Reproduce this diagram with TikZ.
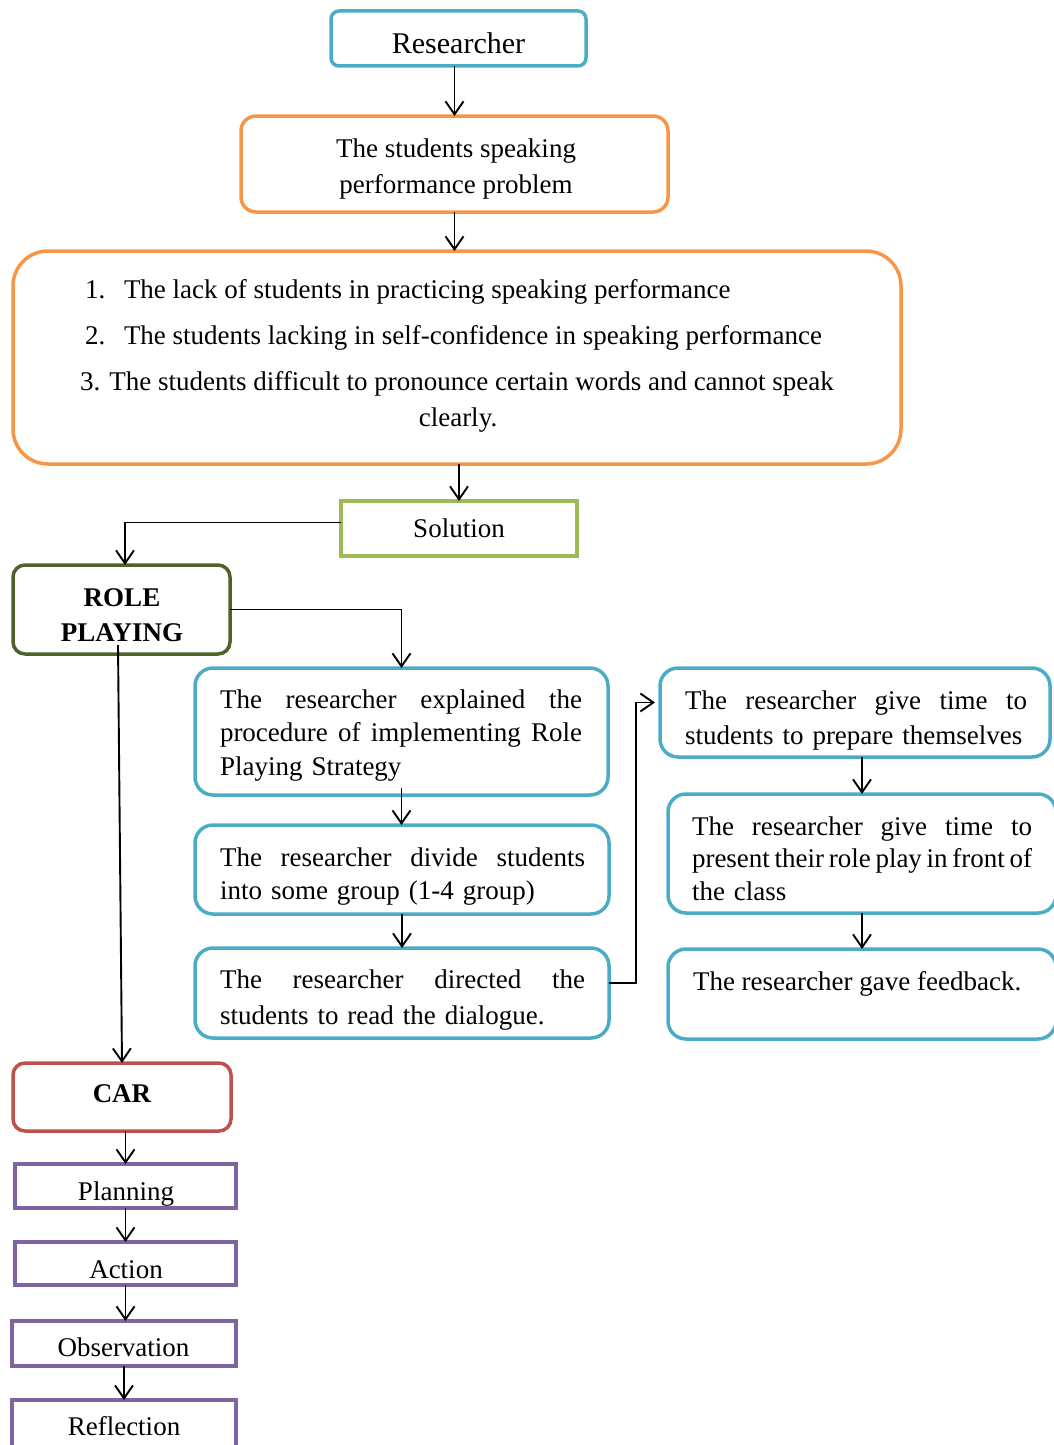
\documentclass[tikz,border=0pt]{standalone}
\usepackage{fontspec}
\setmainfont{Liberation Serif}
\usetikzlibrary{arrows.meta}
\definecolor{cblue}{HTML}{4BACC6}
\definecolor{corange}{HTML}{F79646}
\definecolor{cgreen}{HTML}{9BBB59}
\definecolor{colive}{HTML}{4F6228}
\definecolor{cred}{HTML}{C0504D}
\definecolor{cpurple}{HTML}{8064A2}
\newcommand\jsp{\hskip 6.75pt plus 1fil minus 3pt\relax}
\newcommand\jline[2]{\leavevmode\hbox to #1{#2}}
\begin{document}
\begin{tikzpicture}[x=1pt,y=-1pt,
  shp/.style={line width=3.5pt, inner sep=0pt, outer sep=0pt},
  bluebox/.style={shp, draw=cblue, rounded corners=18pt},
  orangebox/.style={shp, draw=corange, rounded corners=#1},
  greenbox/.style={shp, draw=cgreen},
  olivebox/.style={shp, draw=colive, rounded corners=12pt},
  redbox/.style={shp, draw=cred, rounded corners=12pt},
  purplebox/.style={shp, draw=cpurple},
  txt/.style={inner sep=0pt, outer sep=0pt, font=\fontsize{27}{34}\selectfont},
  btxt/.style={txt, font=\fontsize{27}{34}\selectfont\bfseries},
  jtxt/.style={txt, text width=#1, align=left},
  conn/.style={line width=1.9pt, -{Straight Barb[length=13pt,width=18pt,line width=1.9pt]}}
]
\useasboundingbox (0,0) rectangle (1053,1445);

% boxes
\node[bluebox, rounded corners=8pt, minimum width=255pt, minimum height=55pt] (res) at (458.5,38.5) {};
\node[orangebox=15pt, minimum width=427pt, minimum height=96pt] (prob) at (454.5,164) {};
\node[orangebox=35pt, minimum width=888pt, minimum height=213pt] (big) at (457,357.5) {};
\node[greenbox, minimum width=236pt, minimum height=55pt] (sol) at (459,528.5) {};
\node[olivebox, minimum width=217pt, minimum height=89pt] (rp) at (121.5,609.5) {};
\node[bluebox, minimum width=413pt, minimum height=127pt] (b1) at (401.5,731.5) {};
\node[bluebox, minimum width=414pt, minimum height=89pt] (b2) at (402,869.5) {};
\node[bluebox, minimum width=414pt, minimum height=90pt] (b3) at (402,993) {};
\node[bluebox, minimum width=390pt, minimum height=89pt] (b4) at (855,712.5) {};
\node[bluebox, minimum width=388pt, minimum height=119pt] (b5) at (862,853.5) {};
\node[bluebox, minimum width=388pt, minimum height=90pt] (b6) at (862,994) {};
\node[redbox, minimum width=218pt, minimum height=68pt] (car) at (122,1097) {};
\node[purplebox, minimum width=221pt, minimum height=44pt] (plan) at (125.5,1186) {};
\node[purplebox, minimum width=221pt, minimum height=43pt] (act) at (125.5,1263.5) {};
\node[purplebox, minimum width=224pt, minimum height=45pt] (obs) at (124,1343.5) {};
\node[purplebox, minimum width=224pt, minimum height=48pt] (refl) at (124,1424) {};

% texts
\node[txt, font=\fontsize{30}{36}\selectfont, anchor=base] (tres) at (458.5,53) {Researcher};
\node[txt, anchor=base] (tprob1) at (456,157) {The students speaking};
\node[txt, anchor=base] (tprob2) at (456,193) {performance problem};
\node[txt, anchor=base west] (n1) at (85,298) {1.};
\node[txt, anchor=base west] (l1) at (124,298) {The lack of students in practicing speaking performance};
\node[txt, anchor=base west] (n2) at (85,344) {2.};
\node[txt, anchor=base west] (l2) at (124,344) {The students lacking in self-confidence in speaking performance};
\node[txt, anchor=base] (l3) at (457,390) {3. The students difficult to pronounce certain words and cannot speak};
\node[txt, anchor=base] (l4) at (458,426) {clearly.};
\node[txt, anchor=base] (tsol) at (459,537) {Solution};
\node[btxt, anchor=base] (trp1) at (122,606) {ROLE};
\node[btxt, anchor=base] (trp2) at (122,641) {PLAYING};

\node[jtxt=362pt, font=\fontsize{27}{33.5}\selectfont, anchor=base west] (tb1) at (220,708)
  {\jline{362pt}{The\jsp researcher\jsp explained\jsp the}\\
   \jline{362pt}{procedure\jsp of\jsp implementing\jsp Role}\\
   Playing Strategy};
\node[jtxt=365pt, font=\fontsize{27}{33}\selectfont, anchor=base west] (tb2) at (220,866)
  {\jline{365pt}{The\jsp researcher\jsp divide\jsp students}\\
   into some group (1-4 group)};
\node[jtxt=365pt, font=\fontsize{27}{36}\selectfont, anchor=base west] (tb3) at (220,988)
  {\jline{365pt}{The\jsp researcher\jsp directed\jsp the}\\
   students to read the dialogue.};
\node[jtxt=342pt, font=\fontsize{27}{35}\selectfont, anchor=base west] (tb4) at (685,709)
  {\jline{342pt}{The\jsp researcher\jsp give\jsp time\jsp to}\\
   students to prepare themselves};
\node[jtxt=342pt, font=\fontsize{27}{32.5}\selectfont, anchor=base west] (tb5) at (692,835)
  {\jline{340pt}{The\jsp researcher\jsp give\jsp time\jsp to}\\
   \jline{340pt}{present\jsp their\jsp role\jsp play\jsp in\jsp front\jsp of}\\
   the class};
\node[txt, anchor=base west] (tb6) at (693,990) {The researcher gave feedback.};

\node[btxt, anchor=base] (tcar) at (122,1102) {CAR};
\node[txt, anchor=base] (tplan) at (126,1200) {Planning};
\node[txt, anchor=base] (tact) at (126,1278) {Action};
\node[txt, anchor=base] (tobs) at (123.5,1356) {Observation};
\node[txt, anchor=base] (trefl) at (124,1435) {Reflection};

% connectors
\draw[conn] (prob.north |- res.south) -- (prob.north);
\draw[conn] (prob.south) -- (prob.south |- big.north);
\draw[conn] (sol.north |- big.south) -- (sol.north);
\draw[conn] ([yshift=6pt]sol.west) -| ([xshift=3.5pt]rp.north);
\draw[conn] (rp.east) -| (b1.north);
\draw[conn] ([xshift=-3.5pt,yshift=9pt]rp.south) -- (car.north);
\draw[conn] ([yshift=7pt]b1.south) -- (b1.south |- b2.north);
\draw[conn] (b2.south) -- (b2.south |- b3.north);
\draw[conn] ([yshift=10pt]b3.east) -- ++(27,0) |- ([xshift=-5pt,yshift=10pt]b4.west);
\draw[conn] (b5.north |- b4.south) -- (b5.north);
\draw[conn] (b5.south) -- (b6.north);
\draw[conn] (plan.north |- car.south) -- (plan.north);
\draw[conn] (plan.south) -- (plan.south |- act.north);
\draw[conn] (act.south) -- (act.south |- obs.north);
\draw[conn] (obs.south) -- (obs.south |- refl.north);
\end{tikzpicture}
\end{document}
